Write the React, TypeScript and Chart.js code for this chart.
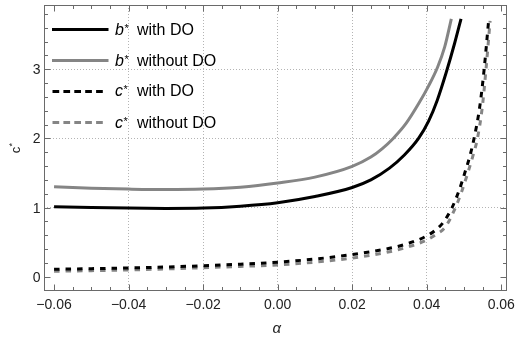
import React, { useEffect, useRef } from "react";
import { Chart, registerables } from "chart.js";

Chart.register(...registerables);

// ---- axis ranges & ticks ----
const X_MIN = -0.0627;
const X_MAX = 0.0614;
const Y_MIN = -0.2;
const Y_MAX = 3.93;

const xMajorTicks = [-0.06, -0.04, -0.02, 0, 0.02, 0.04, 0.06];
const xTickLabels = ["−0.06", "−0.04", "−0.02", "0.00", "0.02", "0.04", "0.06"];
const xMinorTicks = [
  -0.055, -0.05, -0.045, -0.035, -0.03, -0.025, -0.015, -0.01, -0.005,
  0.005, 0.01, 0.015, 0.025, 0.03, 0.035, 0.045, 0.05, 0.055,
];
const yMajorTicks = [0, 1, 2, 3];
const yTickLabels = ["0", "1", "2", "3"];
const yMinorTicks = [
  0.2, 0.4, 0.6, 0.8, 1.2, 1.4, 1.6, 1.8, 2.2, 2.4, 2.6, 2.8, 3.2, 3.4, 3.6, 3.8,
];
const xGridLines = [-0.04, -0.02, 0, 0.02, 0.04];
const yGridLines = [1, 2, 3];

// ---- series ----
const bWithAlpha = [-0.06, -0.05, -0.04, -0.03, -0.02, -0.01, 0, 0.01, 0.02, 0.025, 0.03, 0.034, 0.0378, 0.0405, 0.0428, 0.0452, 0.0475, 0.0492];
const bWithValues = [1.01, 1.0, 0.992, 0.988, 0.993, 1.02, 1.07, 1.16, 1.29, 1.4, 1.57, 1.76, 2.0, 2.25, 2.55, 2.95, 3.38, 3.73];

const bWithoutAlpha = [-0.06, -0.05, -0.04, -0.03, -0.02, -0.01, 0, 0.01, 0.02, 0.025, 0.028, 0.031, 0.0345, 0.0378, 0.0405, 0.0429, 0.0448, 0.0466];
const bWithoutValues = [1.3, 1.28, 1.267, 1.26, 1.267, 1.295, 1.355, 1.44, 1.595, 1.73, 1.85, 2.0, 2.22, 2.5, 2.76, 3.03, 3.32, 3.73];

const cWithAlpha = [-0.06, -0.05, -0.04, -0.03, -0.02, -0.01, 0, 0.01, 0.02, 0.03, 0.035, 0.04, 0.0425, 0.0445, 0.0468, 0.0487, 0.0502, 0.0516, 0.0527, 0.0542, 0.0554, 0.0566];
const cWithValues = [0.107, 0.116, 0.126, 0.14, 0.158, 0.18, 0.21, 0.255, 0.32, 0.41, 0.48, 0.59, 0.68, 0.79, 1.0, 1.25, 1.5, 1.75, 2.0, 2.45, 3.0, 3.7];

const cWithoutAlpha = [-0.06, -0.05, -0.04, -0.03, -0.02, -0.01, 0, 0.01, 0.02, 0.03, 0.035, 0.04, 0.0425, 0.045, 0.0477, 0.0495, 0.051, 0.0524, 0.0536, 0.0549, 0.0559, 0.057];
const cWithoutValues = [0.078, 0.087, 0.097, 0.112, 0.13, 0.148, 0.17, 0.21, 0.27, 0.36, 0.43, 0.53, 0.61, 0.72, 1.0, 1.25, 1.5, 1.75, 2.0, 2.45, 3.0, 3.7];

const seriesLetters = ["b", "b", "c", "c"];
const seriesSuffix = ["with DO", "without DO", "with DO", "without DO"];

const BLACK = "#000000";
const GRAY = "#858585";
const FRAME = "#6a6a6a";
const GRID = "#b4b4b4";
const TEXT = "#222222";
const FONT = '"Liberation Sans", Arial, sans-serif';

const seriesColors = [BLACK, GRAY, BLACK, GRAY];
const seriesDashed = [false, false, true, true];

const toPoints = (xs: number[], ys: number[]) => xs.map((x, i) => ({ x, y: ys[i] }));

const decorPlugin = {
  id: "decor",
  afterDraw(chart: any) {
    const { ctx, chartArea: a, scales } = chart;
    const xs = scales.x;
    const ys = scales.y;
    ctx.save();
    const L = Math.round(a.left) + 0.5;
    const R = Math.round(a.right) - 0.5;
    const T = Math.round(a.top) + 0.5;
    const B = Math.round(a.bottom) - 0.5;

    // frame
    ctx.strokeStyle = FRAME;
    ctx.lineWidth = 1;
    ctx.setLineDash([]);
    ctx.strokeRect(L, T, R - L, B - T);

    // ticks (inside, on all four sides)
    const xTick = (v: number, len: number) => {
      const px = Math.round(xs.getPixelForValue(v)) + 0.5;
      ctx.beginPath();
      ctx.moveTo(px, B);
      ctx.lineTo(px, B - len);
      ctx.moveTo(px, T);
      ctx.lineTo(px, T + len);
      ctx.stroke();
    };
    const yTick = (v: number, len: number) => {
      const py = Math.round(ys.getPixelForValue(v)) + 0.5;
      ctx.beginPath();
      ctx.moveTo(L, py);
      ctx.lineTo(L + len, py);
      ctx.moveTo(R, py);
      ctx.lineTo(R - len, py);
      ctx.stroke();
    };
    xMajorTicks.forEach((v) => xTick(v, 6));
    xMinorTicks.forEach((v) => xTick(v, 3.5));
    yMajorTicks.forEach((v) => yTick(v, 6));
    yMinorTicks.forEach((v) => yTick(v, 3.5));

    // tick labels
    ctx.fillStyle = TEXT;
    ctx.font = `14px ${FONT}`;
    ctx.textBaseline = "alphabetic";
    ctx.textAlign = "center";
    xMajorTicks.forEach((v, i) => {
      ctx.fillText(xTickLabels[i], xs.getPixelForValue(v), B + 18);
    });
    ctx.textAlign = "right";
    yMajorTicks.forEach((v, i) => {
      ctx.fillText(yTickLabels[i], L - 4, ys.getPixelForValue(v) + 5);
    });

    // x axis title
    ctx.textAlign = "center";
    ctx.font = `italic 15px ${FONT}`;
    ctx.fillText("α", (a.left + a.right) / 2 + 1.5, 333);

    // y axis title (rotated)
    ctx.save();
    ctx.translate(19.5, 148);
    ctx.rotate(-Math.PI / 2);
    ctx.textAlign = "left";
    ctx.font = `13px ${FONT}`;
    ctx.fillText("c", -5.3, 0);
    const cw = ctx.measureText("c").width;
    ctx.font = `9px ${FONT}`;
    ctx.fillText("*", -5.3 + cw + 0.3, -4.8);
    ctx.restore();

    // legend
    const rows = [29.3, 60.3, 90.7, 122];
    rows.forEach((ry, i) => {
      const yy = Math.round(ry) + 0.5;
      ctx.strokeStyle = seriesColors[i];
      ctx.lineWidth = 3;
      ctx.lineCap = "butt";
      ctx.beginPath();
      if (seriesDashed[i]) {
        ctx.setLineDash([6.7, 4.2]);
        ctx.moveTo(52.5, yy);
        ctx.lineTo(102.8, yy);
      } else {
        ctx.setLineDash([]);
        ctx.moveTo(52, yy);
        ctx.lineTo(108.5, yy);
      }
      ctx.stroke();
      ctx.setLineDash([]);

      ctx.fillStyle = BLACK;
      ctx.textAlign = "left";
      ctx.font = `italic 16px ${FONT}`;
      const base = ry + 5.5;
      ctx.fillText(seriesLetters[i], 115, base);
      const lw = ctx.measureText(seriesLetters[i]).width;
      ctx.font = `11px ${FONT}`;
      ctx.fillText("*", 115 + lw + 0.5, base - 3);
      ctx.font = `16px ${FONT}`;
      ctx.fillText(seriesSuffix[i], 137, base);
    });

    ctx.restore();
  },
};

export default function App() {
  const canvasRef = useRef<HTMLCanvasElement | null>(null);

  useEffect(() => {
    const canvas = canvasRef.current;
    if (!canvas) return;
    const mk = (label: string, xs: number[], ys: number[], i: number) => ({
      label,
      data: toPoints(xs, ys),
      borderColor: seriesColors[i],
      backgroundColor: seriesColors[i],
      borderWidth: 3,
      borderDash: seriesDashed[i] ? [5.5, 6] : [],
      borderCapStyle: "butt" as const,
      borderJoinStyle: "round" as const,
      pointRadius: 0,
      pointHoverRadius: 0,
      fill: false,
      cubicInterpolationMode: "monotone" as const,
    });
    const chart = new Chart(canvas, {
      type: "line",
      data: {
        datasets: [
          mk("b* with DO", bWithAlpha, bWithValues, 0),
          mk("b* without DO", bWithoutAlpha, bWithoutValues, 1),
          mk("c* with DO", cWithAlpha, cWithValues, 2),
          mk("c* without DO", cWithoutAlpha, cWithoutValues, 3),
        ],
      },
      options: {
        responsive: false,
        animation: false,
        events: [],
        layout: { padding: { left: 44, top: 5, right: 9.5, bottom: 49.5 } },
        plugins: {
          legend: { display: false },
          tooltip: { enabled: false },
        },
        scales: {
          x: {
            type: "linear",
            min: X_MIN,
            max: X_MAX,
            afterBuildTicks: (scale: any) => {
              scale.ticks = xGridLines.map((v) => ({ value: v }));
            },
            ticks: { display: false },
            grid: { color: GRID, lineWidth: 1, drawTicks: false },
            border: { display: false, dash: [1, 2] },
          },
          y: {
            type: "linear",
            min: Y_MIN,
            max: Y_MAX,
            afterBuildTicks: (scale: any) => {
              scale.ticks = yGridLines.map((v) => ({ value: v }));
            },
            ticks: { display: false },
            grid: { color: GRID, lineWidth: 1, drawTicks: false },
            border: { display: false, dash: [1, 2] },
          },
        },
      },
      plugins: [decorPlugin],
    });
    return () => chart.destroy();
  }, []);

  return (
    <div style={{ position: "absolute", left: 0, top: 0, width: 516, height: 340, background: "#fff" }}>
      <canvas ref={canvasRef} width={516} height={340} style={{ display: "block" }} />
    </div>
  );
}
